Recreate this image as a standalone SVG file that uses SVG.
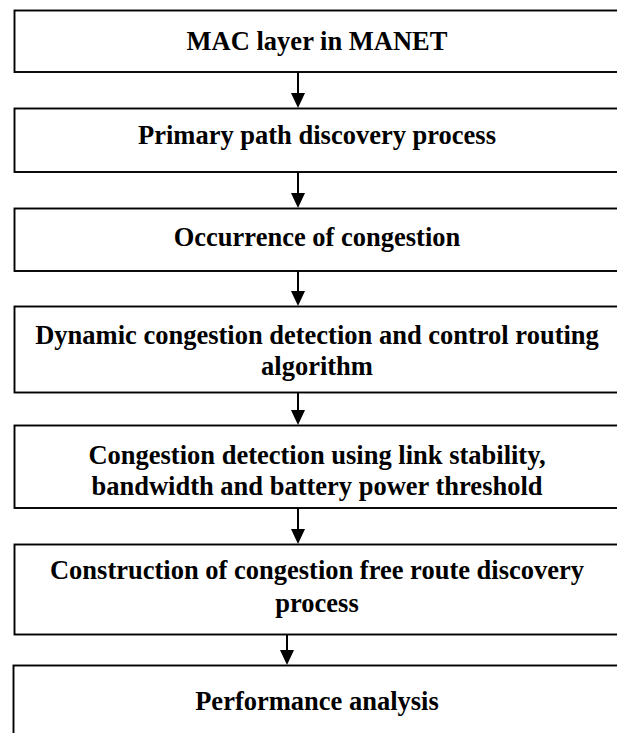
<svg xmlns="http://www.w3.org/2000/svg" width="617" height="733" viewBox="0 0 617 733">
  <style>
    .box { fill: #ffffff; stroke: #000000; stroke-width: 1.9; }
    .label { font-family: "Liberation Serif", "Times New Roman", serif; font-weight: bold; font-size: 26.5px; fill: #000000; text-anchor: middle; }
    .link { stroke: #000000; stroke-width: 2; fill: none; }
    .head { fill: #000000; }
  </style>
  <rect width="617" height="733" fill="#ffffff"/>

  <!-- process steps, top to bottom; boxes run past the right edge -->
  <g id="node-mac">
    <rect class="box" x="14.5" y="10.5" width="640" height="61.5"/>
    <text class="label" x="317" y="50">MAC layer in MANET</text>
  </g>

  <g id="node-primary">
    <rect class="box" x="14.5" y="108.5" width="640" height="63.5"/>
    <text class="label" x="317" y="144">Primary path discovery process</text>
  </g>

  <g id="node-occurrence">
    <rect class="box" x="14.5" y="208.5" width="640" height="62.5"/>
    <text class="label" x="317" y="246">Occurrence of congestion</text>
  </g>

  <g id="node-dynamic">
    <rect class="box" x="14.5" y="306.5" width="640" height="86"/>
    <text class="label" x="317" y="344">Dynamic congestion detection and control routing</text>
    <text class="label" x="317" y="375">algorithm</text>
  </g>

  <g id="node-detection">
    <rect class="box" x="14.5" y="425.5" width="640" height="82.5"/>
    <text class="label" x="317" y="464">Congestion detection using link stability,</text>
    <text class="label" x="317" y="495">bandwidth and battery power threshold</text>
  </g>

  <g id="node-construction">
    <rect class="box" x="14.5" y="544.5" width="640" height="90"/>
    <text class="label" x="317" y="579">Construction of congestion free route discovery</text>
    <text class="label" x="317" y="612">process</text>
  </g>

  <g id="node-performance">
    <rect class="box" x="13.5" y="665.5" width="640" height="100"/>
    <text class="label" x="317" y="710">Performance analysis</text>
  </g>

  <!-- downward arrows between consecutive steps -->
  <g id="connectors">
    <line class="link" x1="298" y1="72" x2="298" y2="95"/>
    <polygon class="head" points="291,93 305,93 298,108"/>
    <line class="link" x1="298" y1="172" x2="298" y2="195"/>
    <polygon class="head" points="291,193 305,193 298,208"/>
    <line class="link" x1="298" y1="271" x2="298" y2="293"/>
    <polygon class="head" points="291,291 305,291 298,306"/>
    <line class="link" x1="298" y1="392" x2="298" y2="412"/>
    <polygon class="head" points="291,410 305,410 298,425"/>
    <line class="link" x1="298" y1="508" x2="298" y2="531"/>
    <polygon class="head" points="291,529 305,529 298,544"/>
    <line class="link" x1="287" y1="634" x2="287" y2="652"/>
    <polygon class="head" points="280,650 294,650 287,665"/>
  </g>
</svg>
